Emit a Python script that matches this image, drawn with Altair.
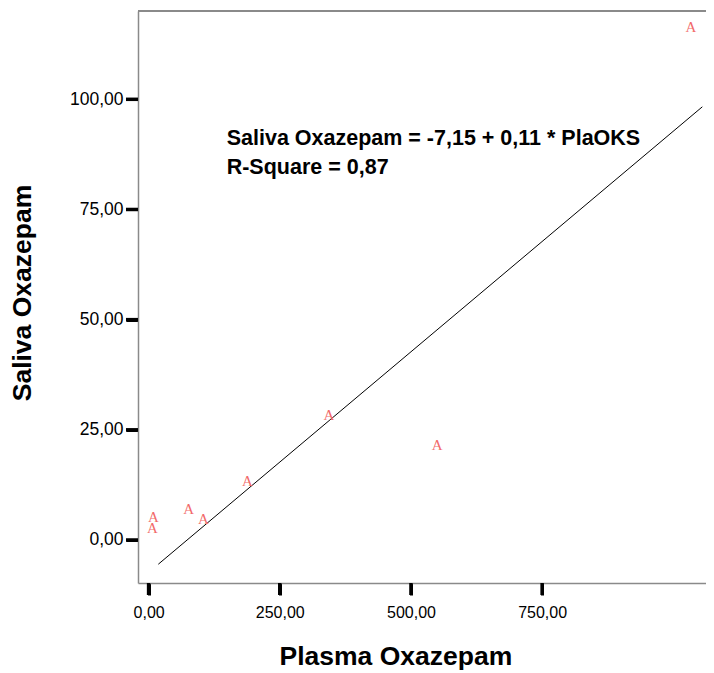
import altair as alt
import pandas as pd

# Scatter points
plasma = [8.96, 7.05, 76.4, 104.3, 188.1, 343.8, 550.2, 1033.7]
saliva = [5.29, 2.65, 7.03, 4.77, 13.46, 28.36, 21.56, 116.5]

# Fit line end points
fit_x = [18.5, 1055.3]
fit_y = [-5.5, 98.3]

# Annotation
eq_lines = ["Saliva Oxazepam = -7,15 + 0,11 * PlaOKS", "R-Square = 0,87"]
eq_x = [148.8, 148.8]
eq_y = [89.6, 83.0]

x_ticks = [0, 250, 500, 750]
y_ticks = [0, 25, 50, 75, 100]

W, H = 568, 572
TICK = 12

pts = pd.DataFrame({"x": plasma, "y": saliva})
fit = pd.DataFrame({"x": fit_x, "y": fit_y})
eq = pd.DataFrame({"x": eq_x, "y": eq_y, "t": eq_lines})
xt = pd.DataFrame({"x": x_ticks})
yt = pd.DataFrame({"y": y_ticks})

xscale = alt.Scale(domain=[-20.2, 1062.3], nice=False, zero=False)
yscale = alt.Scale(domain=[-9.76, 120.04], nice=False, zero=False)

label_expr = "replace(format(datum.value, '.2f'), '.', ',')"

tick_style = dict(tickColor="black", tickWidth=3, tickSize=TICK,
                  domainColor="#8a8a8a", domainWidth=1.5)

xaxis = alt.Axis(values=x_ticks, title="Plasma Oxazepam", labelPadding=9,
                 labelExpr=label_expr, labelFontSize=16,
                 titleX=257.4, titleY=81, titleAlign="center",
                 titleBaseline="alphabetic", **tick_style)
yaxis = alt.Axis(values=y_ticks, title="Saliva Oxazepam", labelPadding=3,
                 labelExpr=label_expr, labelFontSize=17.5,
                 titleX=-107.5, titleY=281.5, titleAngle=270,
                 titleAlign="center", titleBaseline="alphabetic", **tick_style)

X = alt.X("x:Q", scale=xscale, axis=xaxis)
Y = alt.Y("y:Q", scale=yscale, axis=yaxis)

line = alt.Chart(fit).mark_line(color="black", strokeWidth=1).encode(x=X, y=Y)

points = alt.Chart(pts).mark_text(
    text="A", font="Liberation Serif", fontSize=15, color="#f26b6b",
    align="center", baseline="middle"
).encode(x=X, y=Y)

text = alt.Chart(eq).mark_text(
    align="left", baseline="alphabetic", font="Liberation Sans",
    fontSize=21.5, fontWeight="bold", color="black"
).encode(x=X, y=Y, text="t:N")

top_border = alt.Chart(pts).mark_rule(color="#8a8a8a", strokeWidth=1.5).encode(
    x=alt.value(0), x2=alt.value(W), y=alt.value(0)
)

# bold tick marks
xticks_layer = alt.Chart(xt).mark_rule(color="black", strokeWidth=3.5).encode(
    x=X, y=alt.value(H), y2=alt.value(H + TICK)
)
yticks_layer = alt.Chart(yt).mark_rule(color="black", strokeWidth=3.5).encode(
    y=Y, x=alt.value(-TICK), x2=alt.value(0)
)

chart = alt.layer(line, points, text, top_border, xticks_layer, yticks_layer).properties(
    width=W, height=H,
    autosize=alt.AutoSizeParams(type="none"),
    padding={"left": 130, "top": 3, "right": 0, "bottom": 87},
    background="white",
).configure_view(stroke=None).configure_axis(
    grid=False,
    labelFont="Liberation Sans",
    labelColor="black",
    titleFont="Liberation Sans",
    titleFontSize=26.5,
    titleFontWeight="bold",
    titleColor="black",
)

chart.save("out.html", embed_options={"renderer": "svg", "actions": False})
